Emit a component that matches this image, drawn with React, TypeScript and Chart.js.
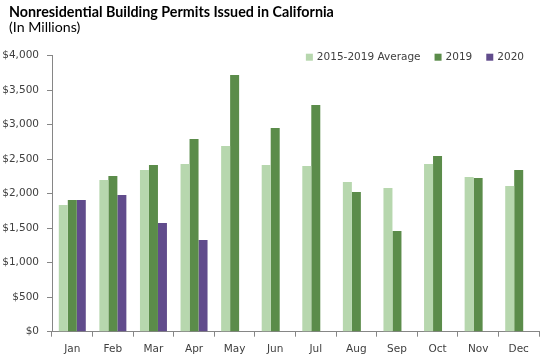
import React, { useEffect, useRef } from "react";
import { Chart, registerables } from "chart.js";

Chart.register(...registerables);

const months = ["Jan", "Feb", "Mar", "Apr", "May", "Jun", "Jul", "Aug", "Sep", "Oct", "Nov", "Dec"];
const avg2015to2019 = [1836, 2199, 2343, 2430, 2691, 2415, 2401, 2170, 2083, 2430, 2242, 2112];
const values2019 = [1909, 2257, 2415, 2793, 3720, 2952, 3286, 2025, 1459, 2546, 2228, 2343];
const values2020 = [1909, 1981, 1575, 1329, null, null, null, null, null, null, null, null];
const seriesLabels = ["2015-2019 Average", "2019", "2020"];
const seriesColors = ["#b7d7ae", "#5b8c4a", "#614c8c"];
const titleText = "Nonresidential Building Permits Issued in California";
const subtitleText = "(In Millions)";

const TICK_FONT = "DejaVu Sans";

const headerPlugin = {
  id: "header",
  afterDraw(chart: any) {
    const { ctx } = chart;
    ctx.save();
    ctx.textBaseline = "middle";
    ctx.textAlign = "left";
    ctx.fillStyle = "#000000";
    ctx.font = `bold 14.3px "Lato"`;
    ctx.fillText(titleText, 9, 12);
    ctx.font = `14.2px "Lato"`;
    ctx.fillText(subtitleText, 9, 27.5);
    ctx.restore();
  },
};

const legendPlugin = {
  id: "customLegend",
  afterDraw(chart: any) {
    const { ctx, chartArea } = chart;
    ctx.save();
    ctx.font = `10.5px "${TICK_FONT}"`;
    ctx.textBaseline = "middle";
    const box = 7;
    const gapText = 4;
    const gapItem = 14;
    const items = chart.data.datasets.map((d: any) => ({
      label: d.label,
      color: d.backgroundColor,
      w: ctx.measureText(d.label).width,
    }));
    let total = 0;
    items.forEach((it: any, i: number) => {
      total += box + gapText + it.w + (i < items.length - 1 ? gapItem : 0);
    });
    let x = chartArea.right - 15 - total;
    const cy = chartArea.top + 1.5;
    items.forEach((it: any) => {
      ctx.fillStyle = it.color;
      ctx.fillRect(x, cy - box / 2, box, box);
      x += box + gapText;
      ctx.fillStyle = "#404040";
      ctx.fillText(it.label, x, cy);
      x += it.w + gapItem;
    });
    ctx.restore();
  },
};

export default function App() {
  const ref = useRef<HTMLCanvasElement | null>(null);
  useEffect(() => {
    document.body.style.margin = "0";
    const canvas = ref.current!;
    const chart = new Chart(canvas, {
      type: "bar",
      data: {
        labels: months,
        datasets: [
          { label: seriesLabels[0], data: avg2015to2019, backgroundColor: seriesColors[0] },
          { label: seriesLabels[1], data: values2019, backgroundColor: seriesColors[1] },
          { label: seriesLabels[2], data: values2020 as any, backgroundColor: seriesColors[2] },
        ],
      },
      options: {
        animation: false,
        responsive: false,
        maintainAspectRatio: false,
        datasets: { bar: { categoryPercentage: 0.665, barPercentage: 1 } },
        layout: { padding: { left: 0, right: 8, top: 55.7, bottom: 0 } },
        plugins: {
          legend: { display: false },
          tooltip: { enabled: false },
          title: { display: false },
        },
        scales: {
          x: {
            grid: { display: true, drawOnChartArea: false, drawTicks: true, tickLength: 5, color: "#868686", offset: true },
            border: { display: true, color: "#868686" },
            ticks: { color: "#404040", font: { family: TICK_FONT, size: 10.5 }, padding: 6, maxRotation: 0 },
            afterFit(scale: any) {
              scale.height = 32.3;
            },
          },
          y: {
            min: 0,
            max: 4000,
            grid: { display: true, drawOnChartArea: false, drawTicks: true, tickLength: 5, color: "#868686" },
            border: { display: true, color: "#868686" },
            ticks: {
              stepSize: 500,
              color: "#404040",
              font: { family: TICK_FONT, size: 10.5 },
              padding: 8,
              callback: (v: any) => "$" + Number(v).toLocaleString("en-US"),
            },
            afterFit(scale: any) {
              scale.width = 52;
            },
          },
        },
      },
      plugins: [headerPlugin, legendPlugin],
    });
    return () => chart.destroy();
  }, []);
  return (
    <div style={{ width: 547, height: 364 }}>
      <canvas ref={ref} width={547} height={364} style={{ width: 547, height: 364, display: "block" }} />
    </div>
  );
}
